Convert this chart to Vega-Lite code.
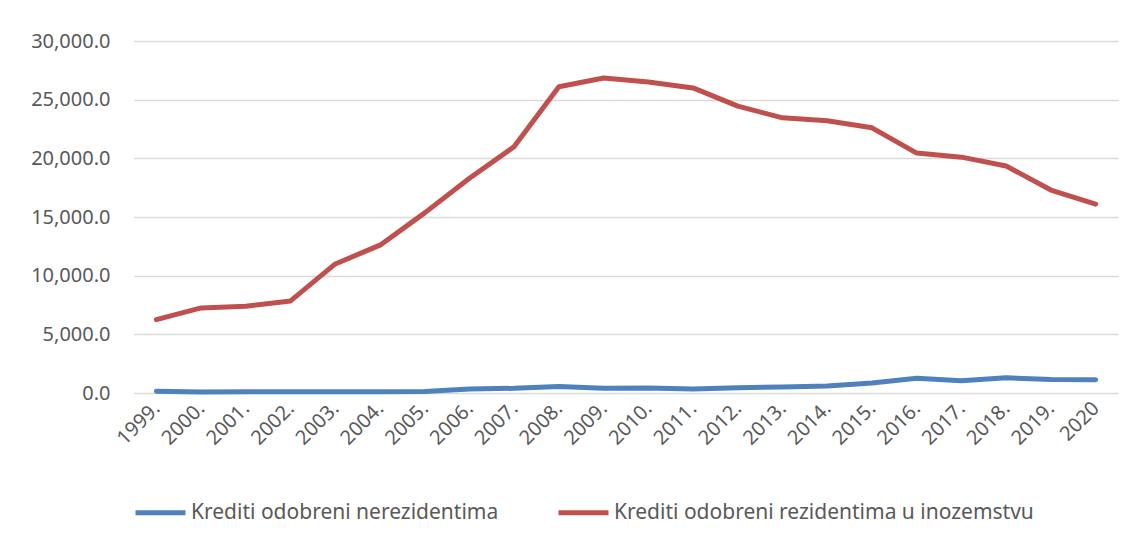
{
  "$schema": "https://vega.github.io/schema/vega-lite/v6.json",
  "width": 984,
  "height": 352,
  "autosize": {"type": "none"},
  "padding": {"left": 134, "top": 41, "right": 18, "bottom": 150},
  "background": "white",
  "config": {
    "view": {"stroke": null},
    "font": "Noto Sans",
    "axis": {"labelFont": "Noto Sans", "labelColor": "#595959", "labelFontSize": 20}
  },
  "data": {
    "values": [
      {"year": "1999.", "series": "Krediti odobreni nerezidentima", "value": 150},
      {"year": "2000.", "series": "Krediti odobreni nerezidentima", "value": 80},
      {"year": "2001.", "series": "Krediti odobreni nerezidentima", "value": 100},
      {"year": "2002.", "series": "Krediti odobreni nerezidentima", "value": 100},
      {"year": "2003.", "series": "Krediti odobreni nerezidentima", "value": 100},
      {"year": "2004.", "series": "Krediti odobreni nerezidentima", "value": 100},
      {"year": "2005.", "series": "Krediti odobreni nerezidentima", "value": 120},
      {"year": "2006.", "series": "Krediti odobreni nerezidentima", "value": 350},
      {"year": "2007.", "series": "Krediti odobreni nerezidentima", "value": 400},
      {"year": "2008.", "series": "Krediti odobreni nerezidentima", "value": 550},
      {"year": "2009.", "series": "Krediti odobreni nerezidentima", "value": 400},
      {"year": "2010.", "series": "Krediti odobreni nerezidentima", "value": 420},
      {"year": "2011.", "series": "Krediti odobreni nerezidentima", "value": 350},
      {"year": "2012.", "series": "Krediti odobreni nerezidentima", "value": 450},
      {"year": "2013.", "series": "Krediti odobreni nerezidentima", "value": 520},
      {"year": "2014.", "series": "Krediti odobreni nerezidentima", "value": 600},
      {"year": "2015.", "series": "Krediti odobreni nerezidentima", "value": 850},
      {"year": "2016.", "series": "Krediti odobreni nerezidentima", "value": 1250},
      {"year": "2017.", "series": "Krediti odobreni nerezidentima", "value": 1050},
      {"year": "2018.", "series": "Krediti odobreni nerezidentima", "value": 1300},
      {"year": "2019.", "series": "Krediti odobreni nerezidentima", "value": 1150},
      {"year": "2020", "series": "Krediti odobreni nerezidentima", "value": 1130},
      {"year": "1999.", "series": "Krediti odobreni rezidentima u inozemstvu", "value": 6250},
      {"year": "2000.", "series": "Krediti odobreni rezidentima u inozemstvu", "value": 7250},
      {"year": "2001.", "series": "Krediti odobreni rezidentima u inozemstvu", "value": 7400},
      {"year": "2002.", "series": "Krediti odobreni rezidentima u inozemstvu", "value": 7850},
      {"year": "2003.", "series": "Krediti odobreni rezidentima u inozemstvu", "value": 11000},
      {"year": "2004.", "series": "Krediti odobreni rezidentima u inozemstvu", "value": 12600},
      {"year": "2005.", "series": "Krediti odobreni rezidentima u inozemstvu", "value": 15350},
      {"year": "2006.", "series": "Krediti odobreni rezidentima u inozemstvu", "value": 18300},
      {"year": "2007.", "series": "Krediti odobreni rezidentima u inozemstvu", "value": 21000},
      {"year": "2008.", "series": "Krediti odobreni rezidentima u inozemstvu", "value": 26100},
      {"year": "2009.", "series": "Krediti odobreni rezidentima u inozemstvu", "value": 26850},
      {"year": "2010.", "series": "Krediti odobreni rezidentima u inozemstvu", "value": 26500},
      {"year": "2011.", "series": "Krediti odobreni rezidentima u inozemstvu", "value": 26000},
      {"year": "2012.", "series": "Krediti odobreni rezidentima u inozemstvu", "value": 24450},
      {"year": "2013.", "series": "Krediti odobreni rezidentima u inozemstvu", "value": 23450},
      {"year": "2014.", "series": "Krediti odobreni rezidentima u inozemstvu", "value": 23200},
      {"year": "2015.", "series": "Krediti odobreni rezidentima u inozemstvu", "value": 22600},
      {"year": "2016.", "series": "Krediti odobreni rezidentima u inozemstvu", "value": 20450},
      {"year": "2017.", "series": "Krediti odobreni rezidentima u inozemstvu", "value": 20100},
      {"year": "2018.", "series": "Krediti odobreni rezidentima u inozemstvu", "value": 19350},
      {"year": "2019.", "series": "Krediti odobreni rezidentima u inozemstvu", "value": 17300},
      {"year": "2020", "series": "Krediti odobreni rezidentima u inozemstvu", "value": 16100}
    ]
  },
  "mark": {"type": "line", "strokeWidth": 5, "strokeCap": "round", "strokeJoin": "round"},
  "encoding": {
    "x": {
      "field": "year", "type": "ordinal", "sort": null,
      "scale": {"type": "point", "padding": 0.5},
      "axis": {"title": null, "labelAngle": -45, "labelAlign": "right", "labelBaseline": "middle", "labelPadding": 12, "domain": false, "ticks": false, "grid": false}
    },
    "y": {
      "field": "value", "type": "quantitative",
      "scale": {"domain": [0, 30000], "nice": false},
      "axis": {"title": null, "values": [0, 5000, 10000, 15000, 20000, 25000, 30000], "format": ",.1f", "domain": false, "ticks": false, "labelPadding": 24, "gridColor": "#d9d9d9", "gridWidth": 1.5}
    },
    "color": {
      "field": "series", "type": "nominal",
      "scale": {"domain": ["Krediti odobreni nerezidentima", "Krediti odobreni rezidentima u inozemstvu"], "range": ["#4f81bd", "#c0504d"]},
      "legend": {"title": null, "orient": "none", "legendX": -1, "legendY": 444, "direction": "horizontal", "symbolType": "stroke", "symbolSize": 2500, "symbolStrokeWidth": 5, "labelFontSize": 21, "labelColor": "#595959", "labelFont": "Noto Sans", "columnPadding": 49, "labelOffset": 3, "labelLimit": 500}
    }
  }
}
